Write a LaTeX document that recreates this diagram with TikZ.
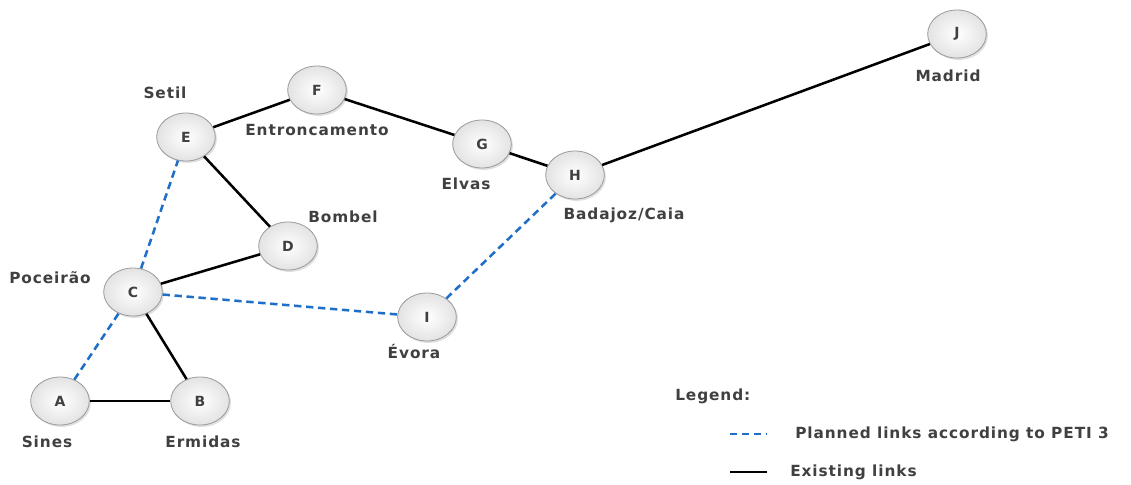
\documentclass[tikz,border=0pt]{standalone}
\usepackage{fontspec}
\setmainfont{DejaVu Sans}[LetterSpace=6]
\usetikzlibrary{shapes.geometric,shadows}
\definecolor{txt}{HTML}{404040}
\definecolor{plan}{HTML}{1F6FC9}
\definecolor{rim}{HTML}{9A9A9A}
\begin{document}
\begin{tikzpicture}[x=0.75pt,y=-0.75pt,
  station/.style={ellipse, draw=rim, line width=0.6pt,
    minimum width=44pt, minimum height=36pt, inner sep=0pt,
    shading=radial, inner color=white, outer color=gray!22,
    drop shadow={shadow xshift=1.2pt, shadow yshift=-1.4pt, opacity=0.25},
    font=\bfseries\fontsize{10.5}{12}\selectfont, text=txt},
  place/.style={font=\bfseries\fontsize{11.5}{13}\selectfont, text=txt, inner sep=0pt},
  existing/.style={draw=black, line width=1.9pt},
  planned/.style={draw=plan, line width=1.9pt, dash pattern=on 5.5pt off 3.5pt}]
\useasboundingbox (0,0) rectangle (1131,485);
\fill[white] (0,0) rectangle (1131,485);

% station positions
\coordinate (pA) at (60,401);
\coordinate (pB) at (200,401);
\coordinate (pC) at (133,292);
\coordinate (pD) at (288,246);
\coordinate (pE) at (186,137);
\coordinate (pF) at (317,90);
\coordinate (pG) at (482,144);
\coordinate (pH) at (575,175);
\coordinate (pI) at (427,317);
\coordinate (pJ) at (957,34);

% stations
\node[station] (A) at (pA) {A};
\node[station] (B) at (pB) {B};
\node[station] (C) at (pC) {C};
\node[station] (D) at (pD) {D};
\node[station] (E) at (pE) {E};
\node[station] (F) at (pF) {F};
\node[station] (G) at (pG) {G};
\node[station] (H) at (pH) {H};
\node[station] (I) at (pI) {I};
\node[station] (J) at (pJ) {J};

% existing network
\draw[existing] (A) -- (B);
\draw[existing] (C) -- (B);
\draw[existing] (C) -- (D);
\draw[existing] (E) -- (D);
\draw[existing] (E) -- (F);
\draw[existing] (F) -- (G);
\draw[existing] (G) -- (H);
\draw[existing] (H) -- (J);

% planned links
\draw[planned] (A) -- (C);
\draw[planned] (C) -- (E);
\draw[planned] (C) -- (I);
\draw[planned] (I) -- (H);

% place names
\node[place] (nA) at (47,442) {Sines};
\node[place] (nB) at (203,442) {Ermidas};
\node[place] (nC) at (50,278) {Poceirão};
\node[place] (nD) at (343,217) {Bombel};
\node[place] (nE) at (165,93) {Setil};
\node[place] (nF) at (317,130) {Entroncamento};
\node[place] (nG) at (466,184) {Elvas};
\node[place] (nH) at (624,215) {Badajoz/Caia};
\node[place] (nI) at (414,351) {Évora};
\node[place] (nJ) at (948,76) {Madrid};

% legend
\node[place, anchor=west] (lg) at (675,396) {Legend:};
\coordinate (l1a) at (730,434);
\coordinate (l1b) at (767,434);
\coordinate (l2a) at (730,472);
\coordinate (l2b) at (767,472);
\draw[planned] (l1a) -- (l1b);
\draw[existing] (l2a) -- (l2b);
\node[place, anchor=west] (lp) at (795,434) {Planned links according to PETI 3};
\node[place, anchor=west] (le) at (790,472) {Existing links};
\end{tikzpicture}
\end{document}
